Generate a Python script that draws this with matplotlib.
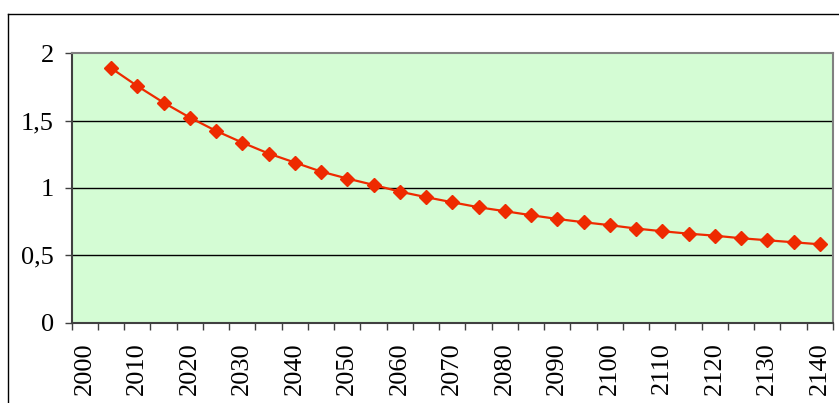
import numpy as np
import matplotlib
matplotlib.use("Agg")
import matplotlib.pyplot as plt
from matplotlib.lines import Line2D

# categories every 5 years, labels on every other one
years = list(range(2000, 2145, 5))
# value per category, no value for 2000
values = [np.nan, 1.89, 1.757, 1.634, 1.523, 1.424, 1.337, 1.256, 1.189,
          1.122, 1.070, 1.023, 0.973, 0.932, 0.894, 0.857, 0.828, 0.798,
          0.770, 0.746, 0.724, 0.699, 0.679, 0.661, 0.646, 0.627, 0.612,
          0.597, 0.582]
ytick_vals = [0, 0.5, 1, 1.5, 2]
ytick_labels = ["0", "0,5", "1", "1,5", "2"]

plt.rcParams['font.family'] = ['Liberation Serif', 'DejaVu Serif']

W, H = 839, 403
fig = plt.figure(figsize=(W / 100, H / 100), dpi=100)
ax = fig.add_axes([71.7 / W, 1 - 322.7 / H, (833 - 71.7) / W, (322.7 - 53.3) / H])

x = np.arange(len(years))
ax.set_facecolor('#D4FCD4')
ax.plot(x, values, color='#EE2A00', lw=1.6, marker='D', ms=7.5,
        mec='#EE2A00', mfc='#EE2A00', zorder=3)

ax.set_xlim(-0.5, len(years) - 0.5)
ax.set_ylim(0, 2)

# y axis
ax.set_yticks(ytick_vals)
ax.set_yticklabels(ytick_labels, fontsize=19)
ax.tick_params(axis='y', direction='out', length=5, width=1, pad=8, color='#404040')
for v in ytick_vals[1:-1]:
    ax.axhline(v, color='black', lw=1, zorder=1)

# x axis: ticks at category boundaries, labels at every second category
ax.set_xticks(x[::2])
ax.set_xticklabels([str(y) for y in years[::2]], rotation=90, fontsize=19)
ax.set_xticks(np.arange(-0.5, len(years)), minor=True)
ax.tick_params(axis='x', which='major', length=0, pad=14)
ax.tick_params(axis='x', which='minor', direction='out', length=5, width=1, color='#404040')

ax.spines['top'].set_color('#808080')
ax.spines['right'].set_color('#808080')
ax.spines['top'].set_linewidth(1.5)
ax.spines['right'].set_linewidth(1.5)
ax.spines['left'].set_color('#404040')
ax.spines['bottom'].set_color('#404040')
ax.spines['left'].set_linewidth(1.5)
ax.spines['bottom'].set_linewidth(1.5)

# outer chart frame (cut off at right and bottom)
fig.add_artist(Line2D([7.5 / W, 7.5 / W], [0, 1 - 14 / H], color='black', lw=1))
fig.add_artist(Line2D([7.5 / W, 1], [1 - 14 / H, 1 - 14 / H], color='black', lw=1))

fig.savefig('out.png', dpi=100)
